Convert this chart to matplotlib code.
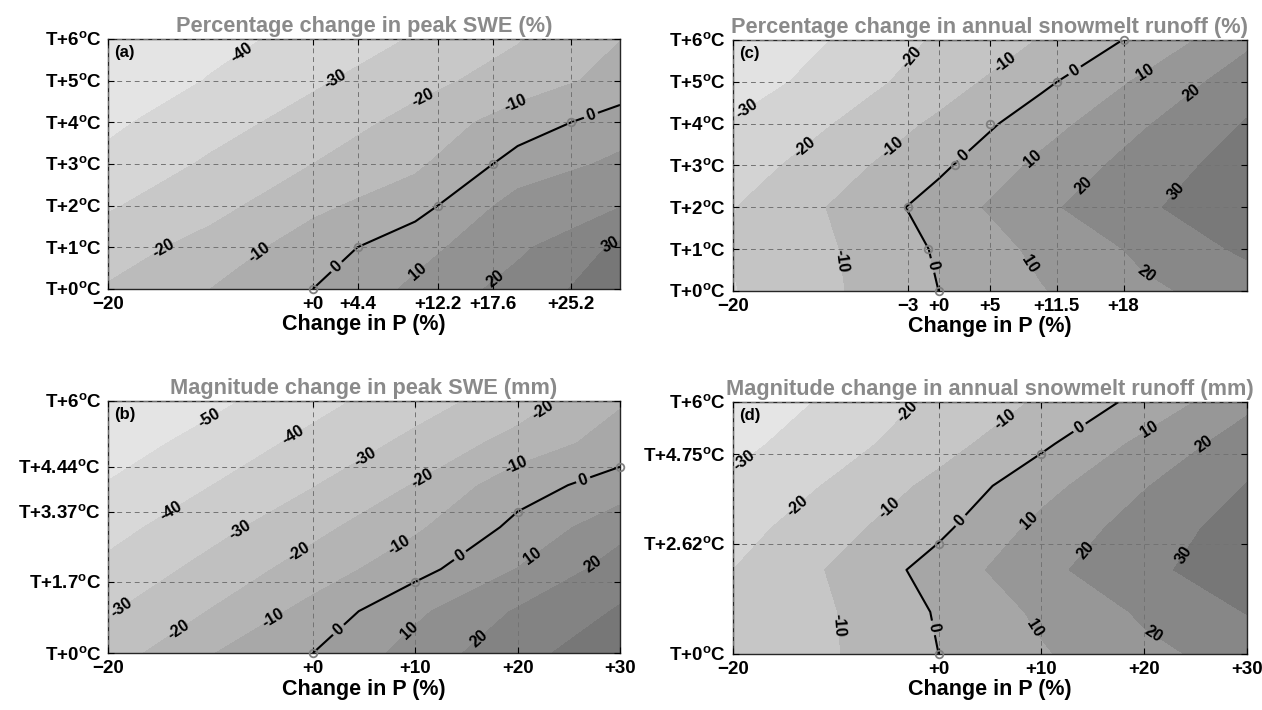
import numpy as np
import matplotlib
matplotlib.use('Agg')
import matplotlib.pyplot as plt
from matplotlib.colors import LinearSegmentedColormap, Normalize

plt.rcParams['font.family'] = ['Liberation Sans', 'DejaVu Sans']
plt.rcParams['mathtext.fontset'] = 'custom'
plt.rcParams['mathtext.rm'] = 'Liberation Sans:bold'
plt.rcParams['mathtext.bf'] = 'Liberation Sans:bold'

# scenario grid: precipitation change (%) x warming (deg C)
dP = [-20, -10, 0, 10, 20, 30]
dT = [0, 1, 2, 3, 4, 5, 6]

# (a) percentage change in peak SWE (%), one row per warming step
swe_pct = [[-19.0, -10.0, 0.0, 12.0, 24.0, 36.0],
           [-25.0, -16.0, -5.0, 6.5, 18.0, 32.0],
           [-31.0, -23.6, -12.3, -4.0, 14.2, 19.5],
           [-37.5, -28.5, -20.0, -11.9, 3.8, 12.3],
           [-41.9, -34.1, -25.9, -16.8, -5.0, 4.6],
           [-47.0, -39.4, -31.6, -23.3, -15.5, -6.4],
           [-48.5, -43.0, -37.0, -29.2, -20.7, -10.2]]

# (b) magnitude change in peak SWE (mm)
swe_mm = [[-25.0, -10.5, 0.0, 14.0, 27.0, 36.0],
          [-30.9, -19.6, -6.5, 8.0, 21.0, 31.0],
          [-37.5, -26.7, -15.5, -3.43, 10.3, 24.7],
          [-43.5, -33.5, -22.9, -11.6, 2.4, 16.5],
          [-49.4, -40.2, -30.5, -19.4, -4.06, 4.2],
          [-55.0, -46.3, -37.1, -27.5, -16.25, -5.4],
          [-58.0, -52.5, -43.3, -34.1, -25.2, -11.1]]

# (c) percentage change in annual snowmelt runoff (%)
runoff_pct = [[-20.5, -11.0, 0.0, 9.4, 18.3, 24.0],
              [-19.5, -10.4, 1.1, 12.3, 22.0, 32.0],
              [-20.4, -8.9, 4.2, 17.9, 28.5, 37.0],
              [-25.3, -14.0, -2.0, 12.4, 24.7, 34.6],
              [-29.2, -19.8, -8.1, 5.7, 19.1, 30.7],
              [-35.5, -25.5, -15.1, -2.2, 12.0, 25.4],
              [-39.0, -29.5, -18.7, -9.5, 2.5, 17.8]]

# (d) magnitude change in annual snowmelt runoff (mm)
runoff_mm = [[-20.0, -10.5, 0.0, 9.0, 17.8, 23.5],
             [-19.3, -10.2, 0.9, 11.8, 21.4, 30.4],
             [-20.0, -8.8, 4.0, 17.2, 27.6, 36.0],
             [-24.0, -13.3, -2.2, 12.8, 24.5, 34.4],
             [-28.0, -18.6, -7.3, 6.6, 19.4, 30.4],
             [-33.0, -23.8, -14.0, -1.9, 12.6, 25.0],
             [-37.0, -28.0, -17.8, -8.8, 2.9, 17.5]]

# points where the change is zero (circles on the 0 contour)
zero_p_a = [0, 4.4, 12.2, 17.6, 25.2]
zero_t_a = [0, 1, 2, 3, 4]
zero_p_b = [0, 10, 20, 30]
zero_t_b = [0, 1.7, 3.37, 4.44]
zero_p_c = [0, -1, -3, 1.6, 5, 11.5, 18]
zero_t_c = [0, 1, 2, 3, 4, 5, 6]
zero_p_d = [0, 0, 10]
zero_t_d = [0, 2.62, 4.75]

# axis ticks
xticks_a = [-20, 0, 4.4, 12.2, 17.6, 25.2]
xticks_b = [-20, 0, 10, 20, 30]
xticks_c = [-20, -3, 0, 5, 11.5, 18]
xticks_d = [-20, 0, 10, 20, 30]
yticks_a = [0, 1, 2, 3, 4, 5, 6]
yticks_b = [0, 1.7, 3.37, 4.44, 6]
yticks_c = [0, 1, 2, 3, 4, 5, 6]
yticks_d = [0, 2.62, 4.75, 6]

# where the contour labels go: (level, dP, dT)
spots_a = [(-40, -6.7, 5.58), (-30, 2.2, 5.04), (-20, 10.8, 4.57), (-10, 19.8, 4.46),
           (0, 27.2, 4.14), (-20, -14.3, 0.88), (-10, -5.1, 0.84), (0, 2.2, 0.56),
           (10, 10.2, 0.44), (20, 17.4, 0.36), (30, 29.2, 1.0)]
spots_b = [(-50, -10.1, 5.58), (-40, -1.9, 5.18), (-30, 5.1, 4.66), (-20, 22.9, 5.62),
           (-20, 10.7, 4.18), (-10, 20.1, 4.38), (0, 26.5, 4.06), (-40, -13.9, 3.39),
           (-30, -7.1, 2.91), (-20, -1.3, 2.39), (-10, 8.5, 2.51), (0, 14.3, 2.35),
           (10, 21.1, 2.43), (20, 27.3, 2.15), (-30, -18.7, 1.08), (-20, -13.1, 0.56),
           (-10, -3.9, 0.84), (0, 2.5, 0.56), (10, 9.5, 0.52), (20, 15.7, 0.48)]
spots_c = [(-20, -2.0, 5.44), (-10, 6.7, 5.36), (0, 13.2, 5.28), (10, 19.9, 5.28),
           (20, 24.8, 4.68), (-30, -18.3, 4.2), (-20, -13.2, 3.48), (-10, -4.55, 3.44),
           (0, 2.35, 3.24), (10, 9.0, 3.2), (20, 13.8, 2.6), (30, 22.6, 2.48),
           (-10, -9.7, 0.72), (0, -0.8, 0.6), (10, 8.8, 0.64), (20, 20.5, 0.52)]
spots_d = [(-20, -2.5, 5.64), (-10, 6.4, 5.62), (0, 13.3, 5.54), (10, 20.0, 5.54),
           (20, 25.1, 5.23), (-30, -18.7, 4.54), (-20, -13.5, 3.44), (-10, -4.9, 3.48),
           (0, 2.2, 3.16), (10, 8.9, 3.16), (20, 14.2, 2.48), (30, 23.1, 2.48),
           (-10, -9.8, 0.68), (0, -0.9, 0.6), (10, 8.9, 0.56), (20, 20.9, 0.48)]

levels = np.arange(-60, 41, 10)
cmap = LinearSegmentedColormap.from_list('snowgray', ['#e8e8e8', '#767676'])


def fmt_p(v):
    if v < 0:
        return '\u2212%g' % -v
    return '+%g' % v


def fmt_t(v):
    return r'T+%g$^{\mathbf{o}}$C' % v


def draw_panel(ax, z, title, tag, xt, yt, mp, mt, spots):
    z = np.array(z)
    ax.contourf(dP, dT, z, levels=levels, cmap=cmap,
                norm=Normalize(z.min(), z.max()))

    # one contour set per labelled level; only the zero line is drawn
    used = sorted(set([s[0] for s in spots]) | {0})
    for lev in used:
        cs = ax.contour(dP, dT, z, levels=[lev], colors='k',
                        linewidths=1.5 if lev == 0 else 0)
        pts = [(x, y) for l, x, y in spots if l == lev]
        if pts:
            cs.clabel(manual=pts, fmt='%d', fontsize=11.5, inline=True,
                      inline_spacing=3, colors='k')
            for t in cs.labelTexts:
                t.set_fontweight('bold')
    ax.plot(mp, mt, 'o', ms=5.5, mfc='none', mec='0.5', mew=1.3,
            clip_on=False, zorder=6)

    ax.set_xlim(-20, 30)
    ax.set_ylim(0, 6)
    ax.set_xticks(xt)
    ax.set_xticklabels([fmt_p(v) for v in xt], fontweight='bold')
    ax.set_yticks(yt)
    ax.set_yticklabels([fmt_t(v) for v in yt], fontweight='bold')
    ax.tick_params(direction='in', top=True, right=True, length=4,
                   labelsize=13.5, pad=5)
    ax.set_axisbelow(False)
    ax.grid(True, ls=(0, (5, 4)), color='0.45', lw=0.7)
    for s in ax.spines.values():
        s.set_linewidth(1.0)
        s.set_color('0.15')
    ax.set_xlabel('Change in P (%)', fontsize=15.5, fontweight='bold', labelpad=1)
    ax.set_title(title, fontsize=15.7, fontweight='bold', color='#8a8a8a', pad=5)
    ax.text(0.012, 0.975, tag, transform=ax.transAxes, ha='left', va='top',
            fontsize=12, fontweight='bold', zorder=7)


fig = plt.figure(figsize=(12.62, 7.10), dpi=100)
ax_a = fig.add_axes([0.0856, 0.593, 0.4057, 0.352])
ax_c = fig.add_axes([0.5808, 0.590, 0.4073, 0.354])
ax_b = fig.add_axes([0.0856, 0.080, 0.4057, 0.355])
ax_d = fig.add_axes([0.5808, 0.079, 0.4073, 0.355])

draw_panel(ax_a, swe_pct, 'Percentage change in peak SWE (%)', '(a)',
           xticks_a, yticks_a, zero_p_a, zero_t_a, spots_a)
draw_panel(ax_b, swe_mm, 'Magnitude change in peak SWE (mm)', '(b)',
           xticks_b, yticks_b, zero_p_b, zero_t_b, spots_b)
draw_panel(ax_c, runoff_pct, 'Percentage change in annual snowmelt runoff (%)', '(c)',
           xticks_c, yticks_c, zero_p_c, zero_t_c, spots_c)
draw_panel(ax_d, runoff_mm, 'Magnitude change in annual snowmelt runoff (mm)', '(d)',
           xticks_d, yticks_d, zero_p_d, zero_t_d, spots_d)

fig.savefig('out.png', dpi=100)
